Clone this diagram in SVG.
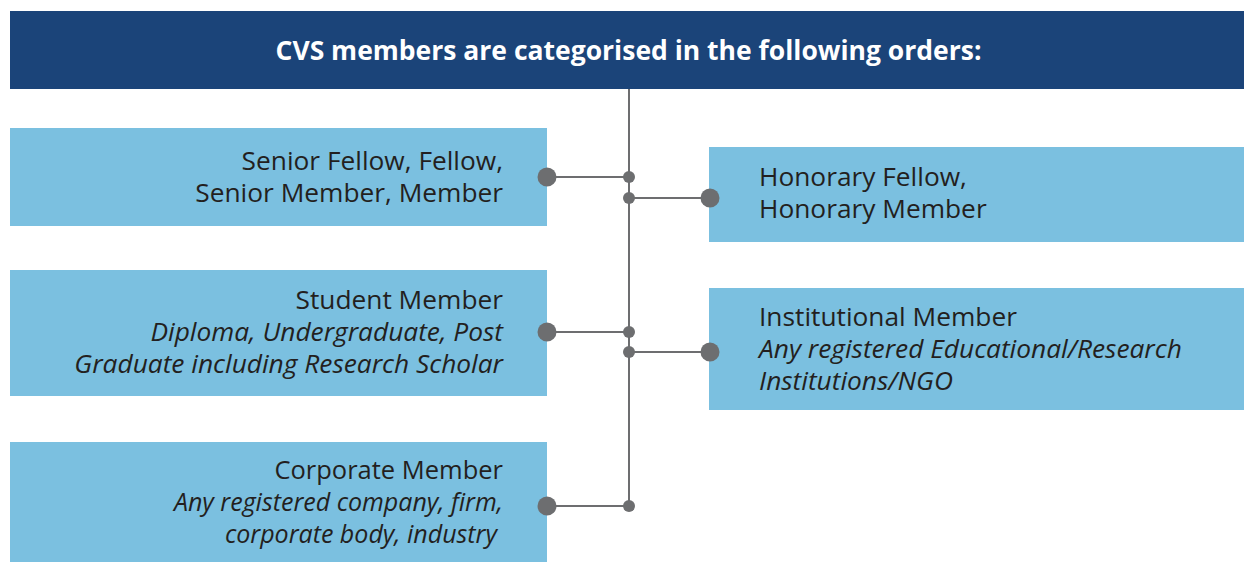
<svg xmlns="http://www.w3.org/2000/svg" width="1244" height="562" viewBox="0 0 1244 562">
  <style>
    .box { fill: #7bc0e0; }
    .t { font-family: "Open Sans", "Noto Sans", sans-serif; font-size: 26.3px; fill: #231f20; }
    .r { text-anchor: end; }
    .i { font-style: italic; }
    .tight { font-size: 25px; }
    .head { font-family: "Open Sans", "Noto Sans", sans-serif; font-size: 26.5px; font-weight: bold; fill: #ffffff; text-anchor: middle; }
    .wire { stroke: #6d6e70; stroke-width: 2; fill: none; }
    .big { fill: #6d6e70; }
  </style>

  <!-- header bar -->
  <g id="header">
    <rect x="10" y="11" width="1234" height="78" fill="#1b4479"/>
    <text class="head" x="628.5" y="60">CVS members are categorised in the following orders:</text>
  </g>

  <!-- connectors: trunk, branches and junction dots -->
  <g id="connectors">
    <line class="wire" x1="629" y1="89" x2="629" y2="506"/>
    <line class="wire" x1="547" y1="177" x2="629" y2="177"/>
    <line class="wire" x1="629" y1="198" x2="710" y2="198"/>
    <line class="wire" x1="547" y1="332" x2="629" y2="332"/>
    <line class="wire" x1="629" y1="352" x2="710" y2="352"/>
    <line class="wire" x1="547" y1="506" x2="629" y2="506"/>
    <g class="big">
      <circle cx="629" cy="177" r="6"/>
      <circle cx="629" cy="198" r="6"/>
      <circle cx="629" cy="332" r="6"/>
      <circle cx="629" cy="352" r="6"/>
      <circle cx="629" cy="506" r="6"/>
    </g>
  </g>

  <g id="senior">
    <rect class="box" x="10" y="128" width="537" height="98"/>
    <text class="t r" x="503" y="170">Senior Fellow, Fellow,</text>
    <text class="t r" x="503" y="202">Senior Member, Member</text>
    <circle class="big" cx="547" cy="177" r="9.5"/>
  </g>

  <g id="honorary">
    <rect class="box" x="709" y="147" width="535" height="95"/>
    <text class="t" x="759" y="186">Honorary Fellow,</text>
    <text class="t" x="759" y="218">Honorary Member</text>
    <circle class="big" cx="710" cy="198" r="9.5"/>
  </g>

  <g id="student">
    <rect class="box" x="10" y="270" width="537" height="126"/>
    <text class="t r" x="503" y="309">Student Member</text>
    <text class="t r i" x="503" y="341">Diploma, Undergraduate, Post</text>
    <text class="t r i" x="503" y="373">Graduate including Research Scholar</text>
    <circle class="big" cx="547" cy="332" r="9.5"/>
  </g>

  <g id="institutional">
    <rect class="box" x="709" y="288" width="535" height="122"/>
    <text class="t" x="759" y="326">Institutional Member</text>
    <text class="t i" x="759" y="358">Any registered Educational/Research</text>
    <text class="t i" x="759" y="390">Institutions/NGO</text>
    <circle class="big" cx="710" cy="352" r="9.5"/>
  </g>

  <g id="corporate">
    <rect class="box" x="10" y="442" width="537" height="120"/>
    <text class="t r" x="503" y="479" style="font-size:25.5px">Corporate Member</text>
    <text class="t r i tight" x="503" y="511">Any registered company, firm,</text>
    <text class="t r i tight" x="497" y="543">corporate body, industry</text>
    <circle class="big" cx="547" cy="506" r="9.5"/>
  </g>
</svg>
